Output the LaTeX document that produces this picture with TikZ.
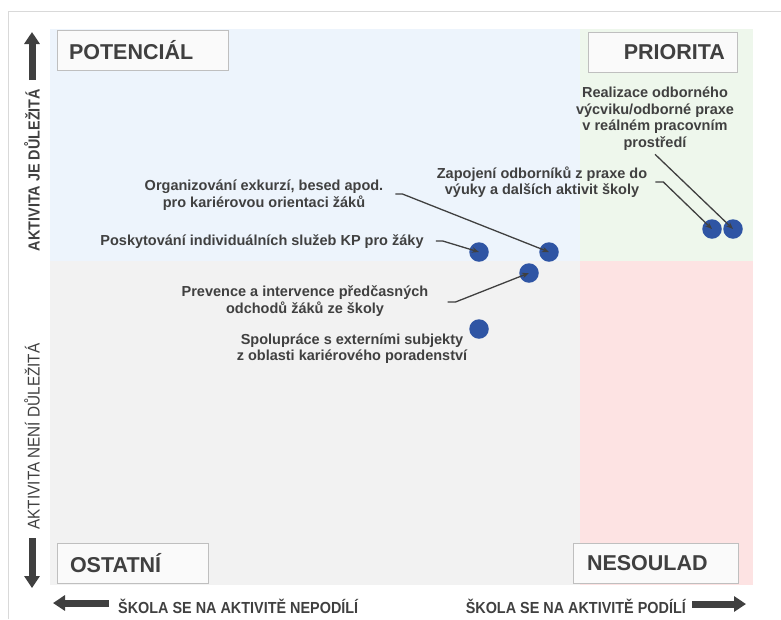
\documentclass[tikz,border=0pt]{standalone}
\usepackage{fontspec}
\setmainfont{Liberation Sans}
\newfontfamily\narrowfont[FakeStretch=0.9]{Liberation Sans}
\usetikzlibrary{arrows.meta}
\definecolor{txt}{HTML}{404040}
\definecolor{qblue}{HTML}{EDF4FC}
\definecolor{qgreen}{HTML}{EEF7EC}
\definecolor{qgray}{HTML}{F2F2F2}
\definecolor{qpink}{HTML}{FDE3E3}
\definecolor{boxfill}{HTML}{FAFAFA}
\definecolor{boxborder}{HTML}{BFBFBF}
\definecolor{frame}{HTML}{D9D9D9}
\definecolor{dotc}{HTML}{2F55A4}
\begin{document}
\begin{tikzpicture}[x=1pt,y=-1pt,
  qbox/.style={draw=boxborder, fill=boxfill, line width=1pt, minimum height=40pt,
    inner ysep=0pt, font=\fontsize{21.5}{24}\selectfont\bfseries, text=txt},
  lbl/.style={font=\fontsize{14.5}{16.5}\selectfont\bfseries, text=txt, align=center, inner sep=0pt},
  axisb/.style={font=\fontsize{16}{18}\selectfont\narrowfont\bfseries, text=txt, inner sep=0pt},
  axisr/.style={font=\fontsize{17}{19}\selectfont\narrowfont, text=txt, inner sep=0pt},
  dot/.style={circle, fill=dotc, minimum size=19.5pt, inner sep=0pt},
  conn/.style={draw=txt, line width=1.3pt, -{Stealth[length=7pt,width=5.5pt]}},
  bigarrow/.style={draw=txt, line width=7pt, -{Triangle[length=12pt,width=15pt]}}]
\useasboundingbox (0,0) rectangle (781,619);
% frame
\draw[frame, line width=1pt] (8,619) -- (8,11) -- (781,11);
% quadrants
\fill[qblue] (50,29) rectangle (580,261);
\fill[qgreen] (580,29) rectangle (753,261);
\fill[qgray] (50,261) rectangle (580,585);
\fill[qpink] (580,261) rectangle (753,585);
% quadrant labels
\node[qbox, text width=147pt, inner xsep=12pt, align=left] (pot) at (142.5,50) {POTENCIÁL};
\node[qbox, text width=125pt, inner xsep=12pt, align=right] (pri) at (662.5,52) {PRIORITA};
\node[qbox, text width=125pt, inner xsep=13pt, align=left] (ost) at (132.5,563) {OSTATNÍ};
\node[qbox, text width=137pt, inner xsep=14pt, align=left] (nes) at (655.5,563) {NESOULAD};
% axes
\node[axisb, rotate=90] (ay1) at (32,170) {AKTIVITA JE DŮLEŽITÁ};
\node[axisr, rotate=90] (ay2) at (32,436.5) {AKTIVITA NENÍ DŮLEŽITÁ};
\node[axisb, anchor=west] (ax1) at (118,606) {ŠKOLA SE NA AKTIVITĚ NEPODÍLÍ};
\node[axisb, anchor=east] (ax2) at (686,606) {ŠKOLA SE NA AKTIVITĚ PODÍLÍ};
\coordinate (upA) at (32,80);  \coordinate (upB) at (32,32);
\coordinate (dnA) at (32,538); \coordinate (dnB) at (32,588);
\coordinate (lfA) at (109,603); \coordinate (lfB) at (53,603);
\coordinate (rtA) at (692,604); \coordinate (rtB) at (746,604);
\draw[bigarrow] (upA) -- (upB);
\draw[bigarrow] (dnA) -- (dnB);
\draw[bigarrow] (lfA) -- (lfB);
\draw[bigarrow] (rtA) -- (rtB);
% dots
\node[dot] (d1) at (479,252) {};
\node[dot] (d2) at (549,252) {};
\node[dot] (d3) at (529,273) {};
\node[dot] (d4) at (479,329) {};
\node[dot] (d5) at (712,229) {};
\node[dot] (d6) at (733,229) {};
% labels
\node[lbl] (real) at (655,118.5) {Realizace odborného\\výcviku/odborné praxe\\v reálném pracovním\\prostředí};
\node[lbl] (zap) at (542,182) {Zapojení odborníků z praxe do\\výuky a dalších aktivit školy};
\node[lbl] (org) at (264,195) {Organizování exkurzí, besed apod.\\pro kariérovou orientaci žáků};
\node[lbl] (posk) at (262,242) {Poskytování individuálních služeb KP pro žáky};
\node[lbl] (prev) at (305,301) {Prevence a intervence předčasných\\odchodů žáků ze školy};
\node[lbl] (spol) at (352,348.5) {Spolupráce s externími subjekty\\z oblasti kariérového poradenství};
% connectors
\draw[conn] ([yshift=-4pt]real.south) -- (d6.center);
\draw[conn] ([xshift=8pt]zap.east) -- ++(8,0) -- (d5.center);
\draw[conn] ([xshift=12pt,yshift=1pt]org.east) -- ++(7,0) -- (d2.center);
\draw[conn] ([xshift=12pt,yshift=1pt]posk.east) -- ++(7,0) -- (d1.center);
\draw[conn] ([xshift=19pt,yshift=-1pt]prev.east) -- ++(8,0) -- (d3.center);
\end{tikzpicture}
\end{document}
